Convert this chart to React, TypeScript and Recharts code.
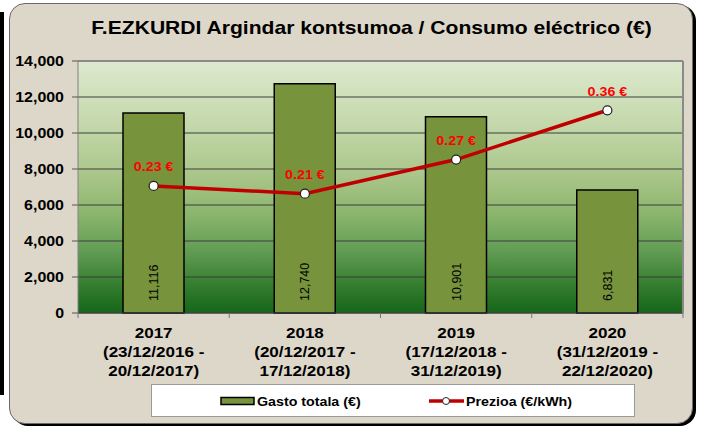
import { ComposedChart, Bar, Line, XAxis, YAxis, CartesianGrid, ReferenceLine, LabelList } from "recharts";

const urteak = ["2017", "2018", "2019", "2020"];
const hasiera = ["(23/12/2016 -", "(20/12/2017 -", "(17/12/2018 -", "(31/12/2019 -"];
const amaiera = ["20/12/2017)", "17/12/2018)", "31/12/2019)", "22/12/2020)"];
const gastoa = [11116, 12740, 10901, 6831];
const prezioa = [0.227, 0.213, 0.274, 0.362];
const ezkerTicks = [0, 2000, 4000, 6000, 8000, 10000, 12000, 14000];
const eskuinTicks = [0, 0.05, 0.1, 0.15, 0.2, 0.25, 0.3, 0.35, 0.4, 0.45];

const data = urteak.map((u, i) => ({
  urtea: u,
  hasiera: hasiera[i],
  amaiera: amaiera[i],
  gastoa: gastoa[i],
  prezioa: prezioa[i],
}));

const W = 703;
const H = 427;
const FONT = "'Liberation Sans', Arial, sans-serif";
const SX = 1.14;
const band = (W - 78 - 20) / urteak.length;

const YTick = ({ x, y, payload }: any) => (
  <text
    transform={`translate(${x - 7},${y}) scale(${SX},1)`}
    textAnchor="end"
    dy="0.36em"
    fontFamily={FONT}
    fontWeight="bold"
    fontSize={14}
    fill="#000"
  >
    {payload.value.toLocaleString("en-US")}
  </text>
);

const XTick = ({ x, y, payload, index }: any) => {
  const d = data[index];
  const top = y - 2;
  return (
    <g>
      <line x1={x - band / 2} x2={x - band / 2} y1={top} y2={top + 5} stroke="#777" />
      {index === urteak.length - 1 && (
        <line x1={x + band / 2} x2={x + band / 2} y1={top} y2={top + 5} stroke="#777" />
      )}
      {[payload.value, d.hasiera, d.amaiera].map((t, k) => (
        <text
          key={k}
          transform={`translate(${x},${top + 19 + k * 19}) scale(1.1,1)`}
          textAnchor="middle"
          dy="0.36em"
          fontFamily={FONT}
          fontWeight="bold"
          fontSize={15.5}
          fill="#000"
        >
          {t}
        </text>
      ))}
    </g>
  );
};

const BarLabel = ({ x, y, width, height, value }: any) => {
  const cx = x + width / 2;
  const by = y + height - 12;
  return (
    <text
      transform={`translate(${cx},${by}) rotate(-90)`}
      textAnchor="start"
      dy="0.36em"
      fontFamily={FONT}
      fontSize={12.5}
      fill="#000"
    >
      {Number(value).toLocaleString("en-US")}
    </text>
  );
};

const PriceLabel = ({ x, y, value }: any) => (
  <text
    transform={`translate(${x},${y - 19}) scale(${SX},1)`}
    textAnchor="middle"
    dy="0.36em"
    fontFamily={FONT}
    fontWeight="bold"
    fontSize={12.5}
    fill="#ff0000"
  >
    {Number(value).toFixed(2)} €
  </text>
);

export default function App() {
  return (
    <div style={{ position: "absolute", left: 0, top: 0, width: W, height: H, background: "#fff", overflow: "hidden" }}>
      <div style={{ position: "absolute", left: 0, top: 12, width: 4, height: 383, background: "#000" }} />
      <div
        style={{
          position: "absolute",
          left: 9,
          top: 3,
          width: 682,
          height: 419,
          borderRadius: 16,
          background: "#ddd7c9",
          border: "1px solid #6a6a6a",
          boxShadow: "3px 2px 0 #000",
        }}
      />
      <div
        style={{
          position: "absolute",
          left: 0,
          top: 15,
          width: 743,
          textAlign: "center",
          fontFamily: FONT,
          fontWeight: "bold",
          fontSize: 18.5,
          lineHeight: "26px",
          color: "#000",
          transform: `scaleX(${SX})`,
          transformOrigin: "371px 0",
        }}
      >
        F.EZKURDI Argindar kontsumoa / Consumo eléctrico (€)
      </div>
      <div style={{ position: "absolute", left: 0, top: 0 }}>
        <ComposedChart width={W} height={H} data={data} margin={{ top: 61, right: 0, bottom: 54, left: 0 }}>
          <defs>
            <linearGradient id="plotGrad" x1="0" y1="0" x2="0" y2="1">
              <stop offset="0%" stopColor="#dde9cf" />
              <stop offset="25%" stopColor="#c4d8ab" />
              <stop offset="45%" stopColor="#abc68b" />
              <stop offset="60%" stopColor="#8db66e" />
              <stop offset="75%" stopColor="#639d55" />
              <stop offset="88%" stopColor="#377f31" />
              <stop offset="100%" stopColor="#16661a" />
            </linearGradient>
          </defs>
          <CartesianGrid
            yAxisId="ezker"
            vertical={false}
            stroke="#3c3c3c"
            fill="url(#plotGrad)"
            fillOpacity={1}
          />
          <XAxis
            dataKey="urtea"
            yAxisId="ezker"
            height={60}
            axisLine={{ stroke: "#444" }}
            tickLine={false}
            tickSize={0}
            tick={<XTick />}
            interval={0}
          />
          <YAxis
            yAxisId="ezker"
            width={78}
            domain={[0, 14000]}
            ticks={ezkerTicks}
            axisLine={{ stroke: "#808080" }}
            tickLine={{ stroke: "#555" }}
            tickSize={6}
            tickMargin={1}
            tick={<YTick />}
          />
          <YAxis
            yAxisId="eskuin"
            orientation="right"
            width={20}
            domain={[0, 0.45]}
            ticks={eskuinTicks}
            axisLine={{ stroke: "#8a8a8a", strokeWidth: 2 }}
            tickLine={{ stroke: "#8a8a8a" }}
            tickSize={4}
            tick={false}
          />
          <ReferenceLine yAxisId="ezker" y={14000} stroke="#8a8a8a" strokeWidth={2} />
          <Bar
            yAxisId="ezker"
            dataKey="gastoa"
            fill="#77933c"
            stroke="#000"
            strokeWidth={1.5}
            barSize={61}
            isAnimationActive={false}
          >
            <LabelList dataKey="gastoa" content={<BarLabel />} />
          </Bar>
          <Line
            yAxisId="eskuin"
            dataKey="prezioa"
            stroke="#c00000"
            strokeWidth={3.5}
            dot={{ r: 4.5, fill: "#fff", stroke: "#222", strokeWidth: 1.2 }}
            isAnimationActive={false}
          >
            <LabelList dataKey="prezioa" content={<PriceLabel />} />
          </Line>
        </ComposedChart>
      </div>
      <div
        style={{
          position: "absolute",
          left: 151,
          top: 384,
          width: 482,
          height: 31,
          background: "#fff",
          border: "1px solid #9a9a9a",
        }}
      >
        <svg width={482} height={31} style={{ position: "absolute", left: 0, top: 0 }}>
          <rect x={69} y={12.5} width={33} height={7} fill="#77933c" stroke="#000" strokeWidth={1.5} />
          <text
            transform={`translate(105,16) scale(${SX},1)`}
            dy="0.36em"
            fontFamily={FONT}
            fontWeight="bold"
            fontSize={12.5}
            fill="#000"
          >
            Gasto totala (€)
          </text>
          <line x1={277} x2={312} y1={16} y2={16} stroke="#c00000" strokeWidth={3.5} />
          <circle cx={294} cy={16} r={3.5} fill="#fff" stroke="#222" strokeWidth={1} />
          <text
            transform={`translate(314,16) scale(${SX},1)`}
            dy="0.36em"
            fontFamily={FONT}
            fontWeight="bold"
            fontSize={12.5}
            fill="#000"
          >
            Prezioa (€/kWh)
          </text>
        </svg>
      </div>
    </div>
  );
}
